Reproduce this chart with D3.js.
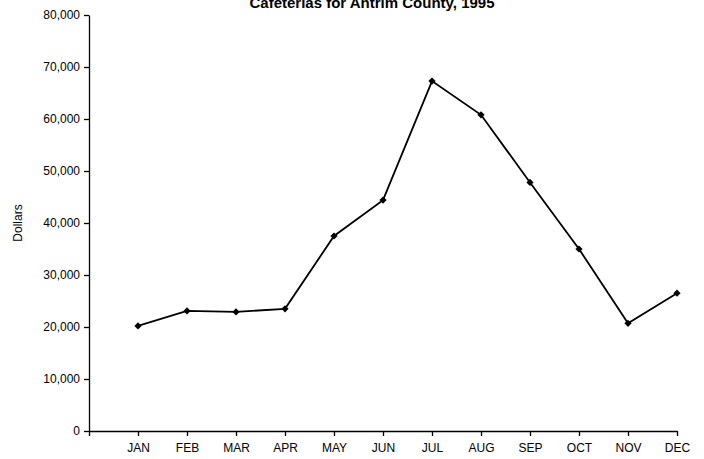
<!DOCTYPE html>
<html lang="en">
<head>
    <meta charset="UTF-8">
    <title>Cafeterias for Antrim County, 1995</title>
    <script src="https://d3js.org/d3.v7.min.js"></script>
    <style>
        body {
            margin: 0;
            padding: 0;
            background: #fff;
            font-family: Arial, "Liberation Sans", sans-serif;
        }
        .axis path, .axis line {
            stroke: #000;
            stroke-width: 1.3;
        }
        .axis text {
            font-family: Arial, "Liberation Sans", sans-serif;
            font-size: 12px;
            fill: #000;
        }
        .line {
            fill: none;
            stroke: #000;
            stroke-width: 1.8;
        }
    </style>
</head>
<body>
    <div id="chart"></div>
    <script>
        const months = ["JAN", "FEB", "MAR", "APR", "MAY", "JUN", "JUL", "AUG", "SEP", "OCT", "NOV", "DEC"];
        const dollars = [20200, 23100, 22900, 23500, 37500, 44400, 67300, 60800, 47800, 35000, 20700, 26500];
        const yTicks = [0, 10000, 20000, 30000, 40000, 50000, 60000, 70000, 80000];

        const width = 704;
        const height = 459;
        const margin = { top: 15, right: 27, bottom: 28, left: 89 };

        const svg = d3.select("#chart")
            .append("svg")
            .attr("width", width)
            .attr("height", height);

        // slot 0 is the origin, months sit on slots 1..12
        const x = d3.scaleLinear()
            .domain([0, months.length])
            .range([margin.left, width - margin.right]);

        const y = d3.scaleLinear()
            .domain([0, 80000])
            .range([height - margin.bottom, margin.top]);

        svg.append("g")
            .attr("class", "axis")
            .attr("transform", `translate(0,${height - margin.bottom})`)
            .call(d3.axisBottom(x)
                .tickValues(d3.range(0, months.length + 1))
                .tickFormat(i => i === 0 ? "" : months[i - 1])
                .tickSize(5)
                .tickSizeOuter(0)
                .tickPadding(7));

        svg.append("g")
            .attr("class", "axis")
            .attr("transform", `translate(${margin.left},0)`)
            .call(d3.axisLeft(y)
                .tickValues(yTicks)
                .tickFormat(d3.format(","))
                .tickSize(5)
                .tickSizeOuter(0)
                .tickPadding(4));

        // title sits partly above the top edge, as in the original
        svg.append("text")
            .attr("x", 372)
            .attr("y", 8)
            .attr("text-anchor", "middle")
            .style("font-size", "15px")
            .style("font-weight", "bold")
            .text("Cafeterias for Antrim County, 1995");

        svg.append("text")
            .attr("transform", `translate(22,${y(40000)}) rotate(-90)`)
            .attr("text-anchor", "middle")
            .style("font-size", "12px")
            .text("Dollars");

        const data = months.map((m, i) => ({ month: m, slot: i + 1, value: dollars[i] }));

        svg.append("path")
            .datum(data)
            .attr("class", "line")
            .attr("d", d3.line()
                .x(d => x(d.slot))
                .y(d => y(d.value)));

        svg.selectAll(".marker")
            .data(data)
            .enter().append("path")
            .attr("class", "marker")
            .attr("transform", d => `translate(${x(d.slot)},${y(d.value)}) rotate(45)`)
            .attr("d", d3.symbol().type(d3.symbolSquare).size(26))
            .attr("fill", "#000");
    </script>
</body>
</html>
